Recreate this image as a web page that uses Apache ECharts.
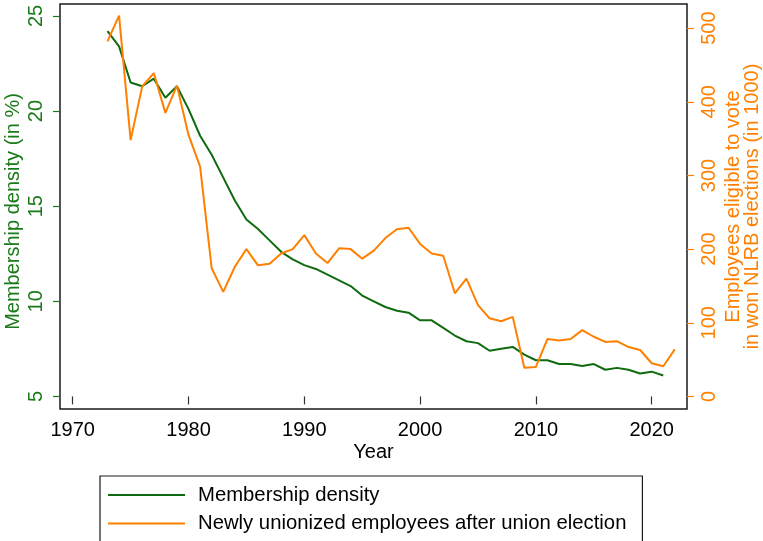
<!DOCTYPE html>
<html>
<head>
<meta charset="utf-8">
<script src="https://cdn.jsdelivr.net/npm/echarts@6/dist/echarts.min.js"></script>
<style>
  html, body { margin: 0; padding: 0; background: #fff; }
  #chart { width: 763px; height: 541px; }
</style>
</head>
<body>
<div id="chart"></div>
<script>
// Years covered by the two series
const years = [
  1973, 1974, 1975, 1976, 1977, 1978, 1979, 1980, 1981, 1982,
  1983, 1984, 1985, 1986, 1987, 1988, 1989, 1990, 1991, 1992,
  1993, 1994, 1995, 1996, 1997, 1998, 1999, 2000, 2001, 2002,
  2003, 2004, 2005, 2006, 2007, 2008, 2009, 2010, 2011, 2012,
  2013, 2014, 2015, 2016, 2017, 2018, 2019, 2020, 2021, 2022
];

// Union membership density, in percent (no value for 2022)
const membershipDensity = [
  24.2, 23.4, 21.5, 21.3, 21.7, 20.7, 21.3, 20.1, 18.7, 17.7,
  16.5, 15.3, 14.3, 13.8, 13.2, 12.6, 12.2, 11.9, 11.7, 11.4,
  11.1, 10.8, 10.3, 10.0, 9.7, 9.5, 9.4, 9.0, 9.0, 8.6,
  8.2, 7.9, 7.8, 7.4, 7.5, 7.6, 7.2, 6.9, 6.9, 6.7,
  6.7, 6.6, 6.7, 6.4, 6.5, 6.4, 6.2, 6.3, 6.1, null
];

// Employees eligible to vote in won NLRB elections, in thousands
const newlyUnionized = [
  482, 517, 348, 421, 439, 385, 422, 355, 312, 174,
  142, 176, 200, 178, 180, 194, 200, 219, 194, 181,
  201, 200, 187, 198, 215, 227, 229, 207, 194, 191,
  140, 160, 124, 106, 102, 108, 39, 40, 78, 76,
  78, 90, 81, 74, 75, 67, 63, 45, 41, 64
];

// Tick labels
const yearTicks = [1970, 1980, 1990, 2000, 2010, 2020];
const densityTicks = [5, 10, 15, 20, 25];
const electionTicks = [0, 100, 200, 300, 400, 500];

const seriesNames = [
  'Membership density',
  'Newly unionized employees after union election'
];

const GREEN = '#0f6b0f';
const GREEN_TEXT = '#1a7a1a';
const ORANGE = '#ff8000';
const FONT = 'Liberation Sans, Arial, Helvetica, sans-serif';
const FS = 20;

const pairs = (vals) => years.map((y, i) => [y, vals[i]]);

const chart = echarts.init(document.getElementById('chart'), null, { renderer: 'canvas' });

chart.setOption({
  animation: false,
  backgroundColor: '#ffffff',
  textStyle: { fontFamily: FONT },
  grid: {
    left: 60, right: 76, top: 4, bottom: 132,
    outerBoundsMode: 'none',
    containLabel: false,
    show: true, borderColor: '#1a1a1a', borderWidth: 1.5,
    backgroundColor: '#ffffff'
  },
  legend: {
    left: 100, top: 476, height: 120,
    orient: 'vertical',
    backgroundColor: '#ffffff',
    borderColor: '#1a1a1a', borderWidth: 1.2,
    padding: [9, 16, 30, 8],
    icon: 'rect',
    itemWidth: 77, itemHeight: 2, itemGap: 8.4,
    textStyle: { fontFamily: FONT, fontSize: 20.3, lineHeight: 20, color: '#000', padding: [0, 0, 0, 8] },
    data: seriesNames
  },
  xAxis: {
    type: 'value',
    min: 1968.9, max: 2023.05,
    name: 'Year', nameLocation: 'middle', nameGap: 33, nameMoveOverlap: false,
    nameTextStyle: { fontFamily: FONT, fontSize: FS, color: '#000' },
    axisLine: { show: false },
    axisTick: { show: true, length: 8, customValues: yearTicks,
      lineStyle: { color: '#333', width: 1.2 } },
    axisLabel: { customValues: yearTicks, margin: 11, fontFamily: FONT, fontSize: FS, color: '#000',
      formatter: (v) => String(v) },
    splitLine: { show: false }
  },
  yAxis: [
    {
      type: 'value', position: 'left',
      min: 4.338, max: 25.625,
      name: 'Membership density (in %)', nameLocation: 'middle', nameGap: 37, nameRotate: 90,
      nameMoveOverlap: false,
      nameTextStyle: { fontFamily: FONT, fontSize: FS, color: GREEN_TEXT, padding: [0, 10, 0, 0] },
      axisLine: { show: false },
      axisTick: { show: true, length: 7, customValues: densityTicks,
        lineStyle: { color: GREEN_TEXT, width: 1.2 } },
      axisLabel: { customValues: densityTicks, rotate: 90, margin: 14,
        fontFamily: FONT, fontSize: FS, color: GREEN_TEXT, formatter: (v) => String(v) },
      splitLine: { show: false }
    },
    {
      type: 'value', position: 'right',
      min: -17.1, max: 532.8,
      name: 'Employees eligible to vote\nin won NLRB elections (in 1000)',
      nameLocation: 'middle', nameGap: 37, nameRotate: 90, nameMoveOverlap: false,
      nameTextStyle: { fontFamily: FONT, fontSize: FS, color: ORANGE, lineHeight: 19 },
      axisLine: { show: false },
      axisTick: { show: true, length: 7, customValues: electionTicks,
        lineStyle: { color: ORANGE, width: 1.2 } },
      axisLabel: { customValues: electionTicks, rotate: 90, margin: 12,
        fontFamily: FONT, fontSize: FS, color: ORANGE, formatter: (v) => String(v) },
      splitLine: { show: false }
    }
  ],
  series: [
    {
      name: seriesNames[0],
      type: 'line', yAxisIndex: 0,
      data: pairs(membershipDensity),
      symbol: 'none', connectNulls: false,
      lineStyle: { color: GREEN, width: 2 },
      itemStyle: { color: GREEN }
    },
    {
      name: seriesNames[1],
      type: 'line', yAxisIndex: 1,
      data: pairs(newlyUnionized),
      symbol: 'none',
      lineStyle: { color: ORANGE, width: 2 },
      itemStyle: { color: ORANGE }
    }
  ]
});
</script>
</body>
</html>
